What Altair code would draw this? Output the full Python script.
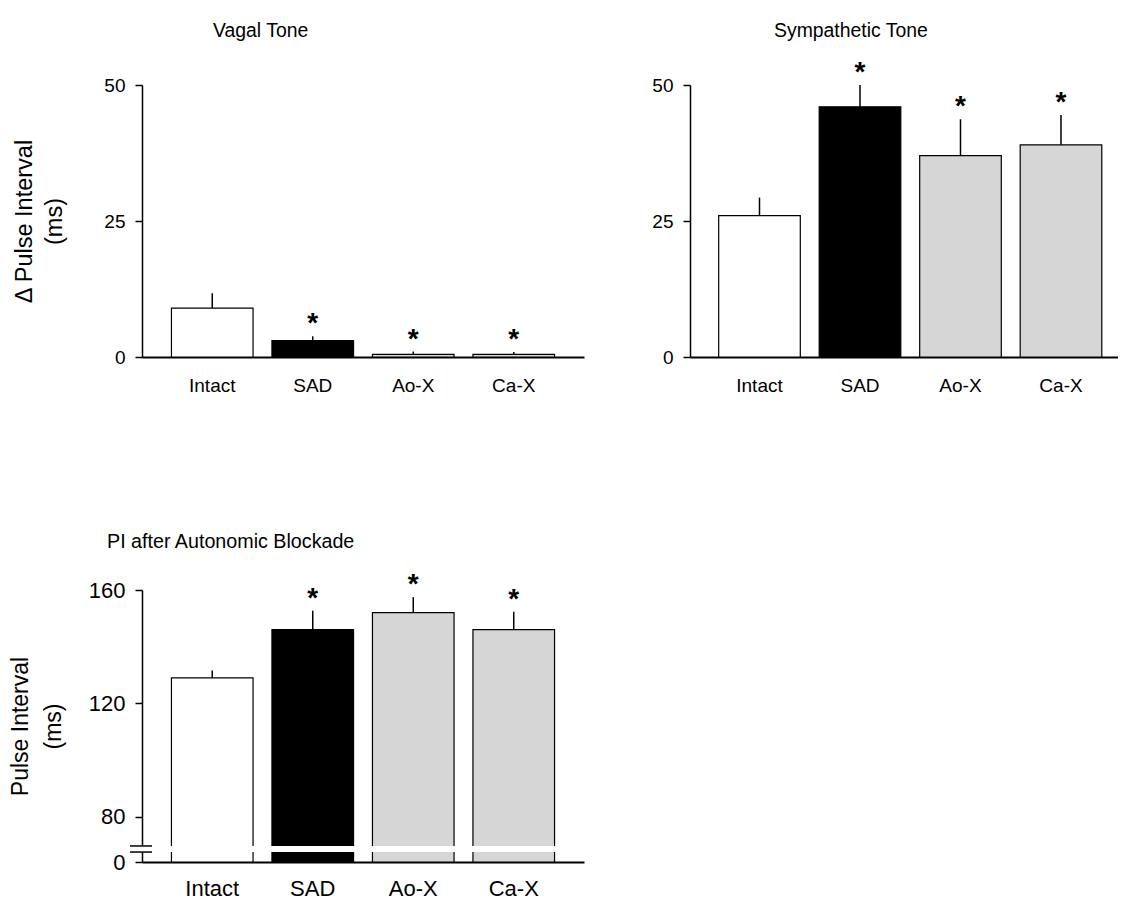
import altair as alt
import pandas as pd

# ---------------- data ----------------
groups = ["Intact", "SAD", "Ao-X", "Ca-X"]
bar_fills = ["#ffffff", "#000000", "#d6d6d6", "#d6d6d6"]

vagal_mean = [9.0, 3.0, 0.5, 0.5]
vagal_sem = [2.7, 0.8, 0.5, 0.4]
vagal_star = ["", "*", "*", "*"]

symp_mean = [26.0, 46.0, 37.0, 39.0]
symp_sem = [3.3, 4.0, 6.7, 5.5]
symp_star = ["", "*", "*", "*"]

pi_mean = [129.0, 146.0, 152.0, 146.0]
pi_sem = [2.6, 6.7, 5.5, 6.3]
pi_star = ["", "*", "*", "*"]

vagal_ticks = [0, 25, 50]
symp_ticks = [0, 25, 50]
pi_ticks = [0, 80, 120, 160]

FONT = "Liberation Sans"
H = 272


def panel(mean, sem, star, title, title_dx, title_size, title_offset,
          yscale, ticks, ytitle, ytitle_pad, width, xscale, fs, tfs, xpad, tlh):
    df = pd.DataFrame({"group": groups, "mean": mean, "sem": sem, "star": star})
    base = alt.Chart(df).transform_calculate(top="datum.mean + datum.sem")
    x_enc = alt.X("group:N", sort=groups, scale=xscale,
                  axis=alt.Axis(title=None, labelAngle=0, ticks=False, labelPadding=xpad,
                                labelFontSize=fs, domainWidth=2))
    yaxis = alt.Axis(values=ticks, tickSize=7, tickWidth=1.5, domainWidth=1.5,
                     labelFontSize=fs, labelPadding=10, grid=False,
                     title=ytitle if ytitle else None,
                     titleFontSize=tfs, titleFontWeight="normal",
                     titlePadding=ytitle_pad, titleLineHeight=tlh)
    bars = base.mark_bar(stroke="black", strokeWidth=1.2).encode(
        x=x_enc,
        y=alt.Y("mean:Q", scale=yscale, axis=yaxis),
        fill=alt.Fill("group:N", scale=alt.Scale(domain=groups, range=bar_fills), legend=None),
    )
    err = base.mark_rule(color="black", strokeWidth=1.5).encode(
        x=alt.X("group:N", sort=groups), y="mean:Q", y2="top:Q")
    stars = base.mark_text(fontSize=28, fontWeight="bold", font=FONT, baseline="alphabetic",
                           dy=-4, color="black").encode(
        x=alt.X("group:N", sort=groups), y="top:Q", text="star:N")
    layers = [bars, err, stars]
    return layers, dict(width=width, height=H,
                        title=alt.TitleParams(title, anchor="start", frame="group", dx=title_dx,
                                              fontSize=title_size, fontWeight="normal", font=FONT,
                                              offset=title_offset, color="black"))


xs_left = alt.Scale(paddingInner=0.188, paddingOuter=0.293)
xs_right = alt.Scale(paddingInner=0.188, paddingOuter=0.2234, align=0.639)

l1, p1 = panel(vagal_mean, vagal_sem, vagal_star, "Vagal Tone", 71, 19.4, 35,
               alt.Scale(domain=[0, 50], nice=False), vagal_ticks,
               ["\u0394 Pulse Interval", "(ms)"], 37.5, 442, xs_left, 19, 23.5, 19, 30)
chart1 = alt.layer(*l1).properties(**p1)

l2, p2 = panel(symp_mean, symp_sem, symp_star, "Sympathetic Tone", 84, 19.4, 18,
               alt.Scale(domain=[0, 50], nice=False), symp_ticks,
               None, 0, 428, xs_right, 19, 23.5, 19, 30)
chart2 = alt.layer(*l2).properties(**p2)

# broken axis: piecewise linear scale, 0..70 squeezed into the bottom strip
pi_scale = alt.Scale(domain=[0, 70, 160], range=[H, H - 17, 0], nice=False, zero=False)
l3, p3 = panel(pi_mean, pi_sem, pi_star, "PI after Autonomic Blockade", -35, 19.7, 19,
               pi_scale, pi_ticks, ["Pulse Interval", "(ms)"], 23, 442, xs_left, 22, 23, 16, 33)
brk = alt.Chart(pd.DataFrame({"a": [0]}))
gap = brk.mark_rect(fill="white").encode(
    x=alt.value(-16), x2=alt.value(440), y=alt.datum(41), y2=alt.datum(66))
brk_lo = brk.mark_rule(color="black", strokeWidth=1.5).encode(
    x=alt.value(-12), x2=alt.value(10), y=alt.datum(41))
brk_hi = brk.mark_rule(color="black", strokeWidth=1.5).encode(
    x=alt.value(-12), x2=alt.value(10), y=alt.datum(66))
chart3 = alt.layer(*l3, gap, brk_lo, brk_hi).properties(**p3)

chart = alt.concat(chart1, chart2, chart3, columns=2, align="each",
                   spacing={"column": 67, "row": 137}).properties(
    padding={"top": 20, "left": 9, "right": 0, "bottom": 0},
    background="white",
).configure_view(stroke=None).configure_axis(
    labelFont=FONT, titleFont=FONT, labelColor="black", titleColor="black",
    domainColor="black", tickColor="black",
).configure_title(font=FONT)

chart.save("out.html", embed_options={"renderer": "svg", "actions": False})
